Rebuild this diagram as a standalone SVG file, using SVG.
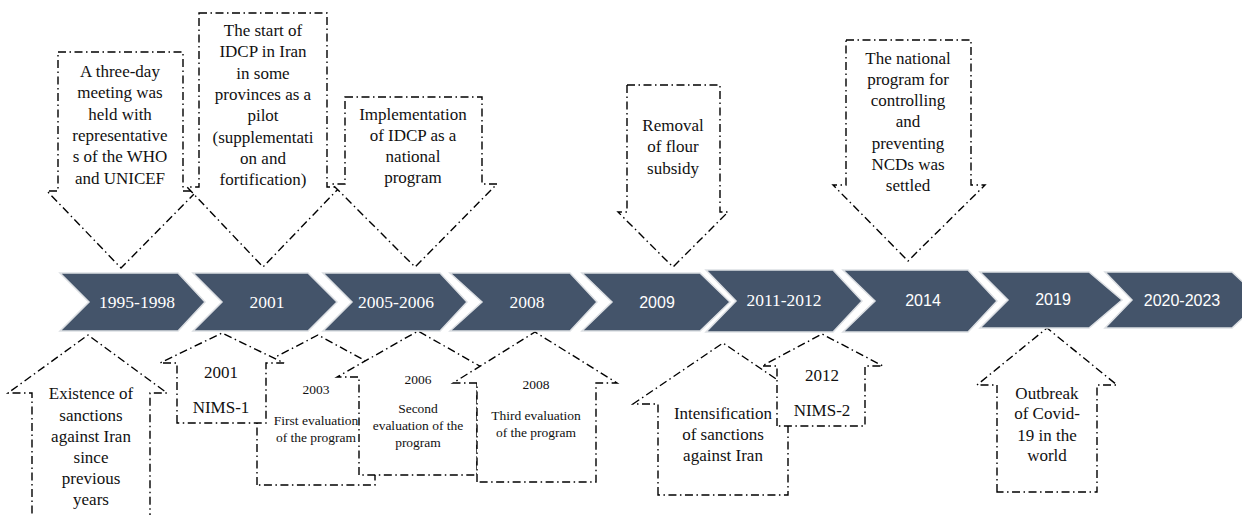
<svg xmlns="http://www.w3.org/2000/svg" width="1242" height="515" viewBox="0 0 1242 515">
<style>
.c{fill:#fff;stroke:#000;stroke-width:1.4;stroke-dasharray:8 3.5 1.5 3.5;stroke-linejoin:miter}
.t{font-family:"Liberation Serif","Times New Roman",serif;font-size:17px;fill:#111;text-anchor:middle}
.s{font-family:"Liberation Serif","Times New Roman",serif;font-size:13.5px;fill:#111;text-anchor:middle}
.ch{fill:#44546A;stroke:#dcdfe3;stroke-width:1.5}
.ys{font-family:"Liberation Serif","Times New Roman",serif;font-size:17.5px;fill:#fff;text-anchor:middle}
.ya{font-family:"Liberation Sans",Arial,sans-serif;font-size:16px;fill:#fff;text-anchor:middle}
</style>
<rect width="1242" height="515" fill="#fff"/>
<g id="top-callouts">
<g id="t1">
<path class="c" d="M58 52 H183 V191 H197 L121 268 L47 191 H58 Z"/>
<text class="t"><tspan x="120" y="77">A three-day</tspan><tspan x="120" y="98">meeting was</tspan><tspan x="120" y="120">held with</tspan><tspan x="120" y="141">representative</tspan><tspan x="120" y="162">s of the WHO</tspan><tspan x="120" y="184">and UNICEF</tspan></text>
</g>
<g id="t2">
<path class="c" d="M199 13 H327 V187 H340 L263 267 L187 187 H199 Z"/>
<text class="t"><tspan x="263" y="36">The start of</tspan><tspan x="263" y="57">IDCP in Iran</tspan><tspan x="263" y="79">in some</tspan><tspan x="263" y="100">provinces as a</tspan><tspan x="263" y="121">pilot</tspan><tspan x="263" y="143">(supplementati</tspan><tspan x="263" y="164">on and</tspan><tspan x="263" y="185">fortification)</tspan></text>
</g>
<g id="t3">
<path class="c" d="M345 97 H482 V184 H497 L415 267 L332 184 H345 Z"/>
<text class="t"><tspan x="413" y="120">Implementation</tspan><tspan x="413" y="141">of IDCP as a</tspan><tspan x="413" y="162">national</tspan><tspan x="413" y="183">program</tspan></text>
</g>
<g id="t4">
<path class="c" d="M627 85 H720 V212 H728 L673 267 L618 212 H627 Z"/>
<text class="t"><tspan x="673" y="131">Removal</tspan><tspan x="673" y="152">of flour</tspan><tspan x="673" y="174">subsidy</tspan></text>
</g>
<g id="t5">
<path class="c" d="M846 40 H971 V185 H985 L908 261 L833 185 H846 Z"/>
<text class="t"><tspan x="908" y="64">The national</tspan><tspan x="908" y="85">program for</tspan><tspan x="908" y="106">controlling</tspan><tspan x="908" y="127">and</tspan><tspan x="908" y="149">preventing</tspan><tspan x="908" y="170">NCDs was</tspan><tspan x="908" y="191">settled</tspan></text>
</g>
</g>
<g id="bottom-callouts">
<g id="b1">
<path class="c" d="M32 530 V393 H8 L88 335 L167 393 H150 V530"/>
<text class="t"><tspan x="91" y="399">Existence of</tspan><tspan x="91" y="421">sanctions</tspan><tspan x="91" y="442">against Iran</tspan><tspan x="91" y="463">since</tspan><tspan x="91" y="484">previous</tspan><tspan x="91" y="505">years</tspan></text>
</g>
<g id="b3">
<path class="c" d="M257 485 V378 H235 L318 335 L397 378 H375 V485 Z"/>
<text class="s"><tspan x="316" y="394">2003</tspan><tspan x="316" y="425">First evaluation</tspan><tspan x="316" y="442">of the program</tspan></text>
</g>
<g id="b2">
<path class="c" d="M177 423 V363 H160 L222 333 L284 363 H266 V423 Z"/>
<text class="t"><tspan x="221" y="378">2001</tspan><tspan x="221" y="413">NIMS-1</tspan></text>
</g>
<g id="b4">
<path class="c" d="M359 475 V377 H337 L418 331 L499 377 H477 V475 Z"/>
<text class="s"><tspan x="418" y="384">2006</tspan><tspan x="418" y="413">Second</tspan><tspan x="418" y="430">evaluation of the</tspan><tspan x="418" y="447">program</tspan></text>
</g>
<g id="b5">
<path class="c" d="M477 482 V383 H453 L535 332 L617 383 H596 V482 Z"/>
<text class="s"><tspan x="536" y="389">2008</tspan><tspan x="536" y="420">Third evaluation</tspan><tspan x="536" y="437">of the program</tspan></text>
</g>
<g id="b6">
<path class="c" d="M658 495 V404 H633 L723 343 L813 404 H788 V495 Z"/>
<text class="t"><tspan x="723" y="419">Intensification</tspan><tspan x="723" y="440">of sanctions</tspan><tspan x="723" y="461">against Iran</tspan></text>
</g>
<g id="b7">
<path class="c" d="M777 426 V366 H762 L822 334 L883 366 H865 V426 Z"/>
<text class="t"><tspan x="822" y="381">2012</tspan><tspan x="822" y="416">NIMS-2</tspan></text>
</g>
<g id="b8">
<path class="c" d="M997 492 V385 H977 L1047 328 L1117 385 H1097 V492 Z"/>
<text class="t"><tspan x="1047" y="399">Outbreak</tspan><tspan x="1047" y="419">of Covid-</tspan><tspan x="1047" y="441">19 in the</tspan><tspan x="1047" y="461">world</tspan></text>
</g>
</g>
<g id="timeline">
<g id="y1"><path class="ch" d="M60 273 H178 L205 302 L178 331 H60 L89 302 Z"/><text class="ys" x="137" y="308">1995-1998</text></g>
<g id="y2"><path class="ch" d="M193 273 H308 L337 302 L308 331 H193 L222 302 Z"/><text class="ys" x="267" y="308">2001</text></g>
<g id="y3"><path class="ch" d="M323 273 H440 L467 302 L440 331 H323 L352 302 Z"/><text class="ys" x="396" y="308">2005-2006</text></g>
<g id="y4"><path class="ch" d="M450 273 H570 L597 302 L570 331 H450 L482 302 Z"/><text class="ys" x="527" y="308">2008</text></g>
<g id="y5"><path class="ch" d="M582 273 H700 L730 302 L700 331 H582 L612 302 Z"/><text class="ya" x="657" y="308">2009</text></g>
<g id="y6"><path class="ch" d="M706 270 H833 L862 301 L833 332 H706 L736 301 Z"/><text class="ys" x="784" y="306">2011-2012</text></g>
<g id="y7"><path class="ch" d="M843 270 H968 L997 301 L968 332 H843 L875 301 Z"/><text class="ya" x="923" y="306">2014</text></g>
<g id="y8"><path class="ch" d="M980 272 H1089 L1122 300 L1089 328 H980 L1008 300 Z"/><text class="ya" x="1053" y="305">2019</text></g>
<g id="y9"><path class="ch" d="M1105 272 H1232 L1262 300 L1232 328 H1105 L1132 300 Z"/><text class="ya" x="1182" y="306">2020-2023</text></g>
</g>
</svg>
